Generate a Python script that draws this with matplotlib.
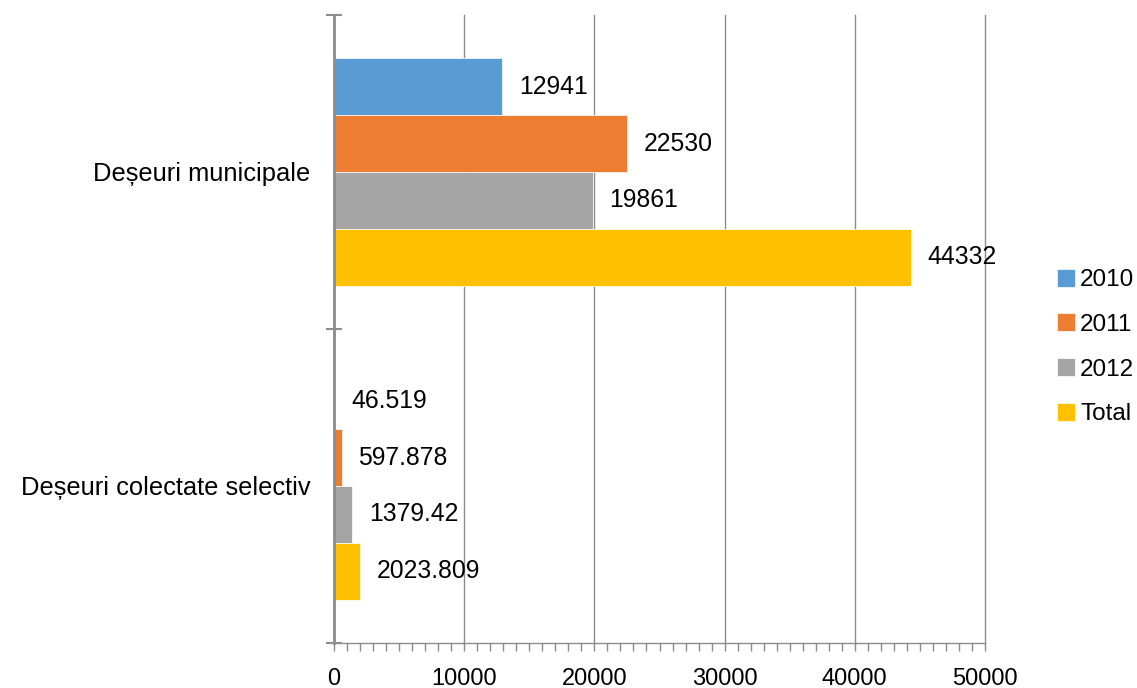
import matplotlib.pyplot as plt
import numpy as np
from matplotlib.ticker import MultipleLocator, FixedLocator

plt.rcParams["font.family"] = ["Liberation Sans", "DejaVu Sans"]

# date
categorii = ["Deșeuri municipale", "Deșeuri colectate selectiv"]
serii = ["2010", "2011", "2012", "Total"]
v2010 = [12941, 46.519]
v2011 = [22530, 597.878]
v2012 = [19861, 1379.42]
vtotal = [44332, 2023.809]
etichete_2010 = ["12941", "46.519"]
etichete_2011 = ["22530", "597.878"]
etichete_2012 = ["19861", "1379.42"]
etichete_total = ["44332", "2023.809"]

culori = ["#5B9BD5", "#ED7D31", "#A5A5A5", "#FFC000"]
valori = [v2010, v2011, v2012, vtotal]
etichete = [etichete_2010, etichete_2011, etichete_2012, etichete_total]

fig = plt.figure(figsize=(11.37, 6.88), dpi=100)
ax = fig.add_axes([334 / 1137, 1 - 643 / 688, 651 / 1137, 628 / 688])

y = np.arange(len(categorii))
h = 57 / 315
for i, (nume, val, et, c) in enumerate(zip(serii, valori, etichete, culori)):
    pos = y + (i - 1.5) * h
    bare = ax.barh(pos, val, height=h, color=c, label=nume, edgecolor="white", linewidth=0.5)
    for b, t in zip(bare, et):
        ax.annotate(t, (b.get_width(), b.get_y() + b.get_height() / 2),
                    xytext=(12, 0), textcoords="offset points",
                    ha="left", va="center", fontsize=17.8)

ax.set_xlim(0, 50000)
ax.set_ylim(1.5, -0.5)

# axa x: grila principala + diviziuni mici
ax.xaxis.set_major_locator(MultipleLocator(10000))
ax.xaxis.set_minor_locator(MultipleLocator(1000))
ax.grid(axis="x", color="#8c8c8c", linewidth=1)
for g in ax.get_xgridlines():
    g.set_clip_on(False)
ax.set_axisbelow(True)
ax.tick_params(axis="x", which="both", direction="out", length=6, width=1, color="#8c8c8c",
               labelsize=17, pad=12)

# axa y: diviziuni intre categorii, etichete pe centru
ax.yaxis.set_major_locator(FixedLocator([-0.5, 0.5, 1.5]))
ax.yaxis.set_major_formatter(plt.NullFormatter())
ax.set_yticks(y, categorii, minor=True)
ax.tick_params(axis="y", which="major", direction="inout", length=12, width=1.5, color="#8c8c8c")
ax.tick_params(axis="y", which="minor", length=0, labelsize=18.4, pad=17)

for s in ["top", "right"]:
    ax.spines[s].set_visible(False)
ax.spines["left"].set_color("#8c8c8c")
ax.spines["left"].set_linewidth(2)
ax.spines["bottom"].set_color("#8c8c8c")
ax.spines["bottom"].set_linewidth(1)

leg = fig.legend(loc="center left", bbox_to_anchor=(1057 / 1137, 1 - 347 / 688),
                 frameon=False, fontsize=17.5, handlelength=0.75, handleheight=0.75,
                 handletextpad=0.2, labelspacing=0.92, borderaxespad=0, borderpad=0)

plt.savefig("out.png", dpi=100)
